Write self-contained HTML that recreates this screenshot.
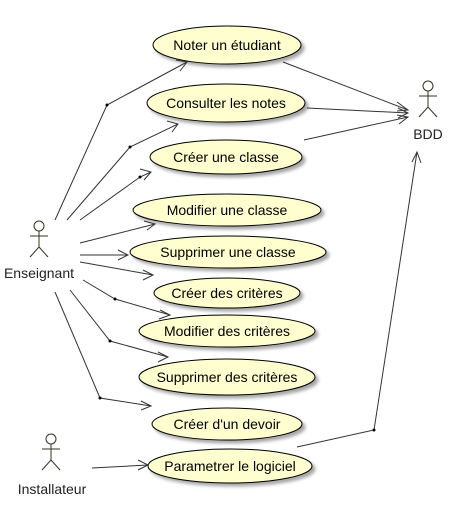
<!DOCTYPE html>
<html><head><meta charset="utf-8"><style>body{margin:0;background:#fff}svg{display:block}</style></head>
<body>
<svg width="460" height="516" xmlns="http://www.w3.org/2000/svg" font-family="Liberation Sans, sans-serif">
<defs>
<filter id="s" x="-10%" y="-20%" width="130%" height="150%"><feDropShadow dx="3" dy="3" stdDeviation="1.5" flood-color="#000" flood-opacity="0.35"/></filter>
</defs>
<g fill="#FEFECE" stroke="#000" stroke-width="1" filter="url(#s)">
<ellipse cx="227" cy="45" rx="74" ry="19"/>
<ellipse cx="226" cy="103" rx="79" ry="19"/>
<ellipse cx="226" cy="157" rx="76" ry="17"/>
<ellipse cx="227" cy="210" rx="94" ry="16"/>
<ellipse cx="228" cy="252" rx="98" ry="16"/>
<ellipse cx="227" cy="293" rx="73" ry="15"/>
<ellipse cx="227" cy="331" rx="88" ry="16"/>
<ellipse cx="227" cy="377" rx="88" ry="18"/>
<ellipse cx="227" cy="424" rx="75" ry="16"/>
<ellipse cx="230" cy="466" rx="82" ry="17"/>
</g>
<g font-size="14" fill="#000" text-anchor="middle">
<text x="227" y="50">Noter un étudiant</text>
<text x="226" y="108">Consulter les notes</text>
<text x="226" y="162">Créer une classe</text>
<text x="227" y="215">Modifier une classe</text>
<text x="228" y="257">Supprimer une classe</text>
<text x="227" y="298">Créer des critères</text>
<text x="227" y="336">Modifier des critères</text>
<text x="227" y="382">Supprimer des critères</text>
<text x="227" y="429">Créer d'un devoir</text>
<text x="230" y="471">Parametrer le logiciel</text>
</g>
<g stroke="#333" fill="none" stroke-width="1">
<polyline points="55,220 107,105 187,62"/>
<polyline points="67,220 130,147 178,124"/>
<polyline points="80,220 140,177 151,172"/>
<line x1="80" y1="243" x2="155" y2="224"/>
<line x1="80" y1="255" x2="128" y2="255"/>
<line x1="80" y1="262" x2="153" y2="275"/>
<polyline points="83,280 115,299 170,315"/>
<polyline points="70,290 110,341 168,357"/>
<polyline points="55,292 100,398 151,406"/>
<line x1="92" y1="468" x2="148" y2="465"/>
<line x1="283" y1="62" x2="408" y2="110"/>
<line x1="307" y1="108" x2="408" y2="113"/>
<line x1="304" y1="140" x2="408" y2="117"/>
<polyline points="297,447 374,430 417,152"/>
</g>
<g fill="#000">
<circle cx="107" cy="105" r="1.5"/><circle cx="130" cy="147" r="1.5"/><circle cx="140" cy="177" r="1.5"/>
<circle cx="115" cy="299" r="1.5"/><circle cx="110" cy="341" r="1.5"/><circle cx="100" cy="398" r="1.5"/>
<circle cx="374" cy="430" r="1.5"/>
</g>
<g stroke="#333" fill="none" stroke-width="1">
<polyline points="176,60 187,62 180,71"/>
<polyline points="167,121 178,124 172,132"/>
<polyline points="140,169 151,172 144,180"/>
<polyline points="144,221 155,224 147,230"/>
<polyline points="118,250 128,255 118,260"/>
<polyline points="143,270 153,275 143,280"/>
<polyline points="160,310 170,315 159,319"/>
<polyline points="158,352 168,357 158,362"/>
<polyline points="141,401 151,406 141,410"/>
<polyline points="138,460 148,465 138,470"/>
<polyline points="397,102 408,110 397,111"/>
<polyline points="398,108 408,113 398,118"/>
<polyline points="397,115 408,117 399,124"/>
<polyline points="412,162 417,152 421,163"/>
</g>
<g stroke="#332" fill="none" stroke-width="1">
<circle cx="39" cy="226" r="5"/><line x1="39" y1="231" x2="39" y2="247"/><line x1="30" y1="236" x2="48" y2="236"/><polyline points="30,257 39,247 48,257"/>
<circle cx="51" cy="439" r="5"/><line x1="51" y1="444" x2="51" y2="460"/><line x1="42" y1="449" x2="60" y2="449"/><polyline points="42,470 51,460 60,470"/>
<circle cx="428" cy="86" r="5"/><line x1="428" y1="91" x2="428" y2="107"/><line x1="419" y1="96" x2="437" y2="96"/><polyline points="419,117 428,107 437,117"/>
</g>
<g font-size="14" fill="#222" text-anchor="middle">
<text x="39" y="278">Enseignant</text>
<text x="52" y="494">Installateur</text>
<text x="428" y="139">BDD</text>
</g>
</svg>
</body></html>
